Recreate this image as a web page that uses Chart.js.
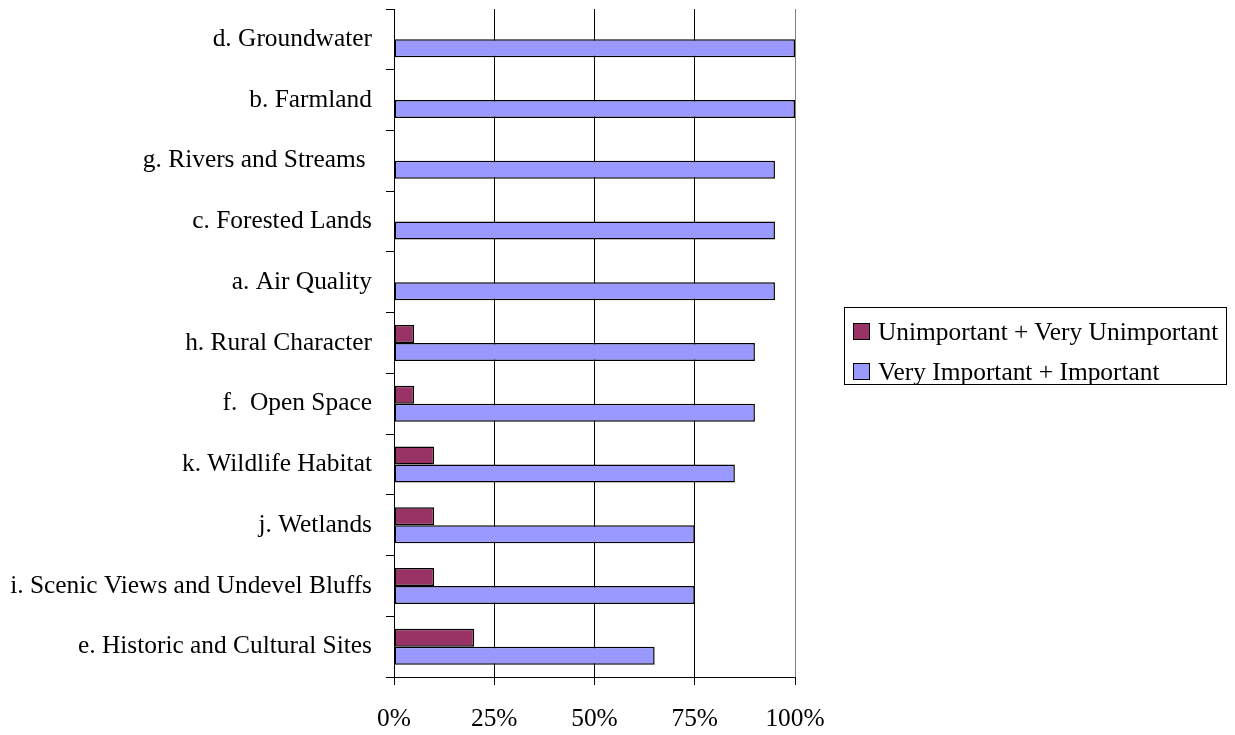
<!DOCTYPE html>
<html>
<head>
<meta charset="utf-8">
<script src="https://cdn.jsdelivr.net/npm/chart.js@4.4.0/dist/chart.umd.min.js"></script>
<style>
    body { margin: 0; background: #fff; }
    #wrap { position: relative; width: 1235px; height: 735px; }
    #legend {
        position: absolute; left: 844px; top: 307px;
        width: 381px; height: 76px;
        border: 1px solid #000;
        font: 25.4px 'Liberation Serif', serif; color: #000;
    }
    .item { position: absolute; left: 8px; height: 24px; line-height: 24px; display: flex; align-items: center; white-space: nowrap; }
    .swatch { width: 15px; height: 15px; border: 1px solid #000; margin-right: 8px; }
</style>
</head>
<body>
<div id="wrap">
    <canvas id="chart" width="1235" height="735"></canvas>
    <div id="legend"></div>
</div>
<script>
const categories = [
    'd. Groundwater',
    'b. Farmland',
    'g. Rivers and Streams ',
    'c. Forested Lands',
    'a. Air Quality',
    'h. Rural Character',
    'f.  Open Space',
    'k. Wildlife Habitat',
    'j. Wetlands',
    'i. Scenic Views and Undevel Bluffs',
    'e. Historic and Cultural Sites'
];
const unimportant = [0, 0, 0, 0, 0, 5, 5, 10, 10, 10, 20];
const veryImportant = [100, 100, 95, 95, 95, 90, 90, 85, 75, 75, 65];
const seriesNames = ['Unimportant + Very Unimportant', 'Very Important + Important'];
const seriesColors = ['#993366', '#9999FF'];

const font = { family: "'Liberation Serif', serif", size: 25.4 };

new Chart(document.getElementById('chart'), {
    type: 'bar',
    data: {
        labels: categories,
        datasets: [
            { label: seriesNames[0], data: unimportant, backgroundColor: seriesColors[0] },
            { label: seriesNames[1], data: veryImportant, backgroundColor: seriesColors[1] }
        ]
    },
    options: {
        indexAxis: 'y',
        responsive: false,
        animation: false,
        events: [],
        layout: { autoPadding: false, padding: { top: 9, right: 440, bottom: 0, left: 0 } },
        datasets: {
            bar: { barPercentage: 1, categoryPercentage: 0.593, borderColor: '#000', borderWidth: 1.5, borderSkipped: false }
        },
        plugins: { legend: { display: false }, tooltip: { enabled: false } },
        scales: {
            x: {
                min: 0, max: 100,
                ticks: { stepSize: 25, color: '#000', font: font, padding: 19, callback: v => v + '%' },
                grid: {
                    color: ctx => ctx.tick && ctx.tick.value === 100 ? '#808080' : '#000',
                    tickColor: '#000',
                    tickLength: 8
                },
                border: { color: '#000' },
                afterFit: s => { s.height = 58; s.paddingLeft = 0; s.paddingRight = 0; }
            },
            y: {
                ticks: { color: '#000', font: font, padding: 14 },
                grid: { drawOnChartArea: false, tickLength: 8, color: '#000', offset: true },
                border: { color: '#000' },
                afterFit: s => { s.width = 394; s.paddingTop = 0; s.paddingBottom = 0; }
            }
        }
    }
});

// legend box
const legend = document.getElementById('legend');
legend.innerHTML = seriesNames.map((name, i) => `
    <div class="item" style="top:${11 + i * 40}px">
        <span class="swatch" style="background:${seriesColors[i]}"></span>${name}
    </div>
`).join('');
</script>
</body>
</html>
